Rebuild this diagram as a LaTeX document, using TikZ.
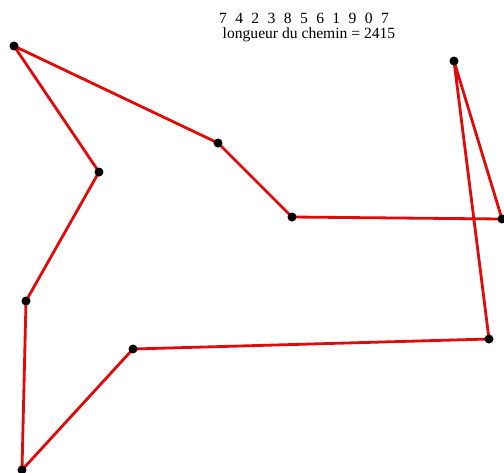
\documentclass[tikz,border=0pt]{standalone}
\usepackage{fontspec}
\setmainfont{Liberation Serif}
\definecolor{pathred}{RGB}{225,10,10}
\newcommand{\dg}{\hspace{8.4pt}}
\begin{document}
\begin{tikzpicture}[x=1pt,y=-1pt,
  dot/.style={circle,fill=black,inner sep=0pt,minimum size=9pt},
  edge/.style={draw=pathred,line width=2.8pt},
  lbl/.style={font=\fontsize{15.6}{15.6}\selectfont,inner sep=0pt}]
\useasboundingbox[fill=white] (0,0) rectangle (504,472);
\coordinate (p0) at (14,46);
\coordinate (p1) at (99,172);
\coordinate (p2) at (26,301);
\coordinate (p3) at (22,470);
\coordinate (p4) at (133,349);
\coordinate (p5) at (489,339);
\coordinate (p6) at (454,61);
\coordinate (p7) at (502,219);
\coordinate (p8) at (292,217);
\coordinate (p9) at (218,143);
\draw[edge] (p0) -- (p1) -- (p2) -- (p3) -- (p4) -- (p5) -- (p6) -- (p7) -- (p8) -- (p9) -- cycle;
\foreach \i in {0,...,9} {\node[dot] (d\i) at (p\i) {};}
\node[lbl] (t1) at (304,18) {7\dg4\dg2\dg3\dg8\dg5\dg6\dg1\dg9\dg0\dg7};
\node[lbl] (t2) at (309,35) {longueur du chemin = 2415};
\end{tikzpicture}
\end{document}
